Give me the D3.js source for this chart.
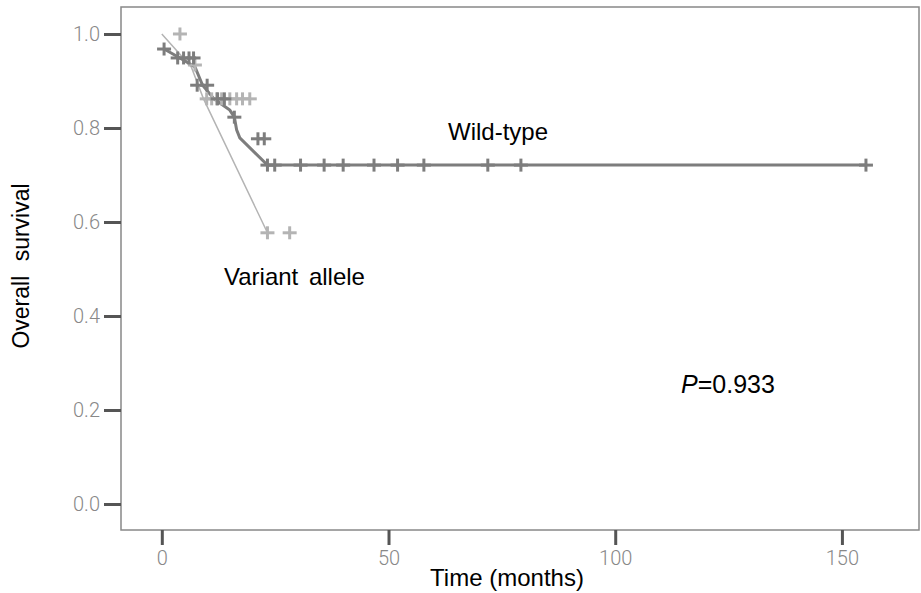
<!DOCTYPE html>
<html>
<head>
<meta charset="utf-8">
<script src="https://cdn.jsdelivr.net/npm/d3@7"></script>
<style>
  body { margin: 0; background: #fff; }
  svg { display: block; }
</style>
</head>
<body>
<div id="chart"></div>
<script>
// survival curves (time in months, survival proportion)
const wildLine = [
  [0.5, 0.968], [4, 0.949], [7.3, 0.93], [9, 0.891], [11.5, 0.862],
  [15, 0.838], [16, 0.823], [16.5, 0.796], [17.2, 0.779], [23.3, 0.721], [155.3, 0.721]
];
const wildCensor = [
  [0.5, 0.968], [3.5, 0.949], [4.8, 0.949], [6.0, 0.949], [7.0, 0.949],
  [7.8, 0.891], [10.0, 0.891], [12.3, 0.862], [13.8, 0.862], [16, 0.823],
  [21.2, 0.777], [22.6, 0.777],
  [23.3, 0.721], [24.9, 0.721], [30.6, 0.721], [35.8, 0.721], [40.0, 0.721],
  [46.8, 0.721], [52.0, 0.721], [57.8, 0.721], [71.9, 0.721], [79.2, 0.721], [155.3, 0.721]
];
const variantLine = [[0, 1.0], [6.5, 0.93], [9.2, 0.862], [23.3, 0.577]];
const variantCensor = [
  [4.0, 1.0], [7.3, 0.934],
  [9.9, 0.862], [11.0, 0.862], [12.1, 0.862], [13.2, 0.862], [15.0, 0.862],
  [16.5, 0.862], [17.8, 0.862], [19.4, 0.862],
  [23.3, 0.577], [28.2, 0.577]
];
const xTicks = [0, 50, 100, 150];
const yTicks = [0, 0.2, 0.4, 0.6, 0.8, 1.0];

const width = 921, height = 593;
const frame = { left: 121, right: 919, top: 7, bottom: 530 };

const svg = d3.select("#chart").append("svg")
  .attr("width", width)
  .attr("height", height);

const x = d3.scaleLinear().domain([-9, 167]).range([frame.left, frame.right]);
const y = d3.scaleLinear().domain([-0.0553, 1.0574]).range([frame.bottom, frame.top]);

// frame
svg.append("rect")
  .attr("x", frame.left).attr("y", frame.top)
  .attr("width", frame.right - frame.left).attr("height", frame.bottom - frame.top)
  .attr("fill", "none").attr("stroke", "#888").attr("stroke-width", 1.5);

// axes
const yAxis = svg.append("g")
  .attr("transform", `translate(${frame.left},0)`)
  .call(d3.axisLeft(y).tickValues(yTicks).tickFormat(d3.format(".1f")).tickSize(17).tickPadding(4));
const xAxis = svg.append("g")
  .attr("transform", `translate(0,${frame.bottom})`)
  .call(d3.axisBottom(x).tickValues(xTicks).tickSize(15).tickPadding(6));

[xAxis, yAxis].forEach(ax => {
  ax.select(".domain").remove();
  ax.selectAll(".tick line").attr("stroke", "#555").attr("stroke-width", 3);
  ax.selectAll(".tick text")
    .attr("fill", "#888")
    .style("font-family", "Roboto, 'DejaVu Sans', sans-serif")
    .style("font-weight", 300)
    .style("font-size", "20px");
});

// curves
const line = d3.line().x(d => x(d[0])).y(d => y(d[1]));

svg.append("path").datum(variantLine)
  .attr("d", line).attr("fill", "none")
  .attr("stroke", "#b4b4b4").attr("stroke-width", 1.5);

svg.append("path").datum(wildLine)
  .attr("d", line).attr("fill", "none")
  .attr("stroke", "#7d7d7d").attr("stroke-width", 3);

function censorMarks(data, color) {
  const g = svg.append("g").attr("stroke", color).attr("stroke-width", 3);
  g.selectAll(".h").data(data).enter().append("line")
    .attr("x1", d => x(d[0]) - 7).attr("x2", d => x(d[0]) + 7)
    .attr("y1", d => y(d[1])).attr("y2", d => y(d[1]));
  g.selectAll(".v").data(data).enter().append("line")
    .attr("x1", d => x(d[0])).attr("x2", d => x(d[0]))
    .attr("y1", d => y(d[1]) - 6.5).attr("y2", d => y(d[1]) + 6.5);
}
censorMarks(variantCensor, "#b4b4b4");
censorMarks(wildCensor, "#7d7d7d");

// labels
const font = "Arial, 'Liberation Sans', sans-serif";
svg.append("text").attr("x", 448).attr("y", 140)
  .style("font-family", font).style("font-size", "24px").text("Wild-type");
svg.append("text").attr("x", 224).attr("y", 285)
  .style("font-family", font).style("font-size", "24px").style("word-spacing", "4px")
  .text("Variant allele");

const p = svg.append("text").attr("x", 681).attr("y", 393)
  .style("font-family", font).style("font-size", "25px");
p.append("tspan").style("font-style", "italic").text("P");
p.append("tspan").text("=0.933");

svg.append("text")
  .attr("x", 507).attr("y", 586)
  .attr("text-anchor", "middle")
  .style("font-family", font).style("font-size", "24px")
  .text("Time (months)");

svg.append("text")
  .attr("transform", `translate(29,266) rotate(-90)`)
  .attr("text-anchor", "middle")
  .style("font-family", font).style("font-size", "23px").style("word-spacing", "8px")
  .text("Overall survival");
</script>
</body>
</html>
